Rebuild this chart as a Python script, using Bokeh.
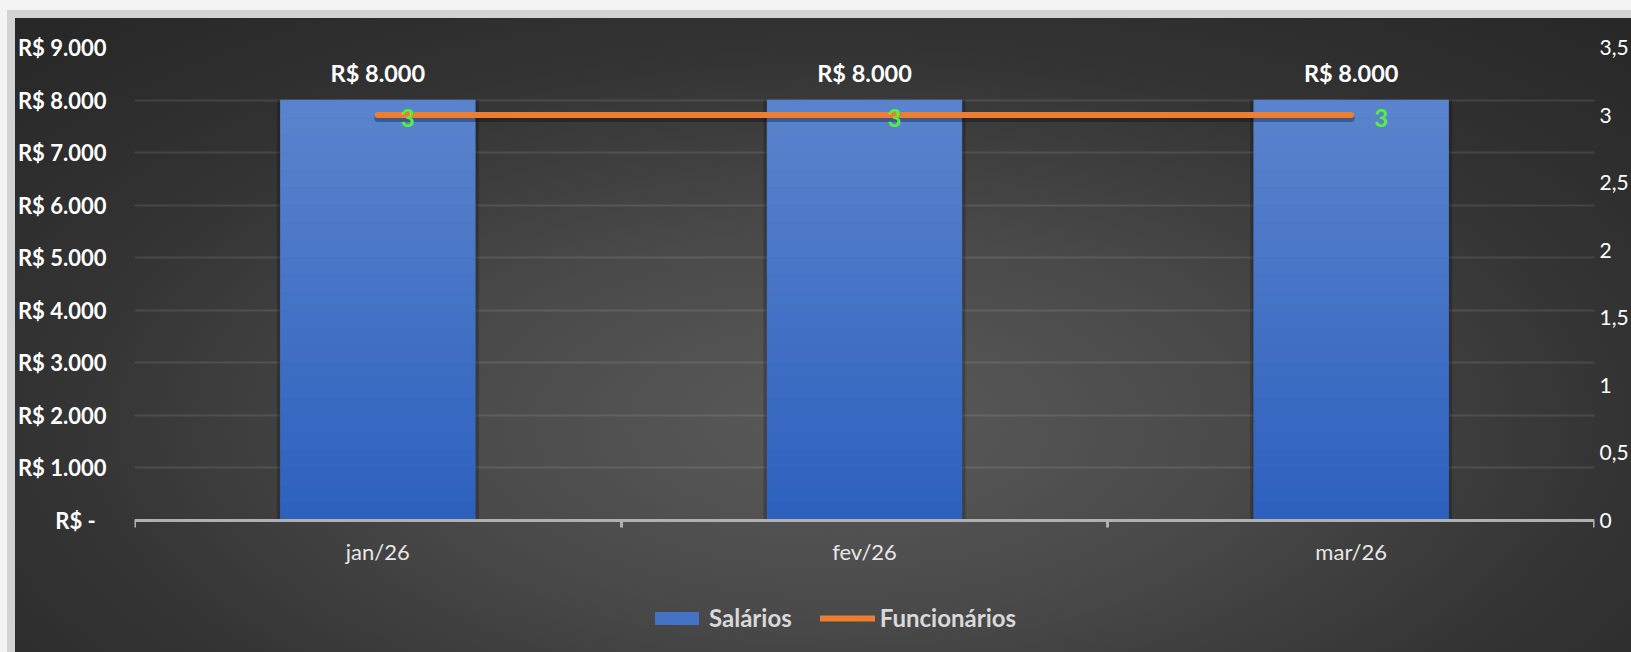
from bokeh.plotting import figure
from bokeh.models import (FixedTicker, CustomJSTickFormatter, LinearAxis, Range1d,
                          Legend, LegendItem, ColumnDataSource)
from bokeh.transform import dodge
from bokeh.core.properties import value
from bokeh.embed import file_html
from bokeh.resources import INLINE

# ---------------- data ----------------
months = ["jan/26", "fev/26", "mar/26"]
salarios = [8000, 8000, 8000]
funcionarios = [3, 3, 3]
salario_labels = ["R$ 8.000", "R$ 8.000", "R$ 8.000"]
func_labels = ["3", "3", "3"]
left_ticks = [0, 1000, 2000, 3000, 4000, 5000, 6000, 7000, 8000, 9000]
right_ticks = [0, 0.5, 1, 1.5, 2, 2.5, 3, 3.5]

xs = [i + 0.5 for i in range(len(months))]
boundaries = list(range(len(months) + 1))

src = ColumnDataSource(dict(x=xs, sal=salarios, func=funcionarios,
                            sal_lab=salario_labels, func_lab=func_labels))

FONT = "Lato"
BLUE_TOP = (0x5b, 0x84, 0xcd)
BLUE_BOT = (0x2d, 0x60, 0xbe)
ORANGE = "#ed7d31"
GREEN = "#55f03a"

# layout (pixels)
W, H = 1631, 652
TOP, LEFT, RIGHT = 47, 134, 37
PLOT_H = 473          # value area height (0 .. max)
BELOW = H - TOP - PLOT_H  # space under the zero line kept inside the frame
ext = BELOW / PLOT_H

y0 = -left_ticks[-1] * ext
r0 = -right_ticks[-1] * ext

p = figure(width=W, height=H, output_backend="svg", toolbar_location=None,
           x_range=Range1d(boundaries[0], boundaries[-1]),
           y_range=Range1d(y0, left_ticks[-1]),
           min_border_left=LEFT, min_border_top=TOP, min_border_right=RIGHT,
           min_border_bottom=0)
p.border_fill_color = None
p.background_fill_color = None
p.outline_line_color = None
p.styles = {
    "background":
        "radial-gradient(ellipse 70% 85% at 51% 64%, #5a5a5a 0%, #4a4a4a 35%, #333333 70%, #282828 100%) 15px 18px / calc(100% - 15px) calc(100% - 18px) no-repeat,"
        " linear-gradient(#d3d3d3, #d3d3d3) 7px 10px / 100% 100% no-repeat, #f4f4f4"
}

p.extra_y_ranges = {"right": Range1d(r0, right_ticks[-1])}

# grid
p.xgrid.visible = False
p.ygrid.ticker = FixedTicker(ticks=left_ticks)
p.ygrid.grid_line_color = "#ffffff"
p.ygrid.grid_line_alpha = 0.1
p.ygrid.grid_line_width = 2

# left axis
ya = p.yaxis[0]
ya.ticker = FixedTicker(ticks=left_ticks)
ya.formatter = CustomJSTickFormatter(code=r"""
if (tick == 0) { return "R$ -\u00a0\u00a0"; }
return "R$ " + tick.toFixed(0).replace(/\B(?=(\d{3})+(?!\d))/g, ".");
""")
ya.axis_line_color = None
ya.major_tick_line_color = None
ya.minor_tick_line_color = None
ya.major_tick_out = 0
ya.major_tick_in = 0
ya.minor_tick_out = 0
ya.minor_tick_in = 0
ya.major_label_text_color = "#ffffff"
ya.major_label_text_font = FONT
ya.major_label_text_font_style = "bold"
ya.major_label_text_font_size = "22px"
ya.major_label_standoff = 28

# right axis
ra = LinearAxis(y_range_name="right", ticker=FixedTicker(ticks=right_ticks),
                formatter=CustomJSTickFormatter(code="return String(tick).replace('.', ',');"))
ra.axis_line_color = None
ra.major_tick_line_color = None
ra.minor_tick_line_color = None
ra.major_tick_out = 0
ra.major_tick_in = 0
ra.minor_tick_out = 0
ra.minor_tick_in = 0
ra.major_label_text_color = "#ffffff"
ra.major_label_text_font = FONT
ra.major_label_text_font_size = "21px"
ra.major_label_standoff = 5
p.add_layout(ra, "right")

# x axis, drawn at the zero line
xa = p.xaxis[0]
xa.fixed_location = 0
xa.ticker = FixedTicker(ticks=xs, minor_ticks=boundaries)
xa.formatter = CustomJSTickFormatter(args=dict(labels=months),
                                     code="return labels[Math.floor(tick)];")
xa.axis_line_color = "#b0b0b0"
xa.axis_line_width = 3
xa.major_tick_line_color = None
xa.major_tick_out = 0
xa.major_tick_in = 0
xa.minor_tick_line_color = "#b0b0b0"
xa.minor_tick_line_width = 3
xa.minor_tick_out = 7
xa.minor_tick_in = 0
xa.major_label_text_color = "#e6e6e6"
xa.major_label_text_font = FONT
xa.major_label_text_font_size = "22px"
xa.major_label_standoff = 10

# bars: soft shadow, main bar, gradient slabs
p.vbar(x="x", top="sal", width=0.415, bottom=0, source=src,
       fill_color="#000000", fill_alpha=0.22, line_color=None)
bars = p.vbar(x="x", top="sal", width=0.4, bottom=0, source=src,
              fill_color="#4472c4", line_color=None)
N = 24
for k in range(N):
    f0, f1 = k / N, (k + 1) / N
    t = (f0 + f1) / 2
    c = tuple(int(round(BLUE_BOT[i] + (BLUE_TOP[i] - BLUE_BOT[i]) * t)) for i in range(3))
    col = "#%02x%02x%02x" % c
    p.vbar(x=xs, width=0.4,
           bottom=[s * f0 for s in salarios], top=[s * f1 for s in salarios],
           fill_color=col, line_color=col, line_width=0.6)

# line with shadow
p.line(x="x", y=dodge("func", -0.025, range=p.extra_y_ranges["right"]), source=src,
       y_range_name="right", line_color="#000000", line_alpha=0.3,
       line_width=7, line_cap="round")
ln = p.line(x="x", y="func", source=src, y_range_name="right",
            line_color=ORANGE, line_width=6, line_cap="round")

# labels
p.text(x="x", y="sal", text="sal_lab", source=src, y_offset=-27,
       text_align="center", text_baseline="middle", text_color="#ffffff",
       text_font=value(FONT), text_font_style="bold", text_font_size="23.5px")
p.text(x="x", y="func", text="func_lab", source=src, y_range_name="right",
       x_offset=30, y_offset=3,
       text_align="center", text_baseline="middle", text_color=GREEN,
       text_font=value(FONT), text_font_style="bold", text_font_size="24px")

legend = Legend(items=[LegendItem(label="Salários", renderers=[bars]),
                       LegendItem(label="Funcionários", renderers=[ln])],
                orientation="horizontal", location=(515, 20),
                background_fill_alpha=0, border_line_color=None,
                glyph_width=55, glyph_height=16, label_standoff=5, spacing=28,
                padding=0, margin=0,
                label_text_color="#d9d9d9", label_text_font=FONT,
                label_text_font_style="bold", label_text_font_size="24px")
p.add_layout(legend, "center")

open("out.html", "w").write(file_html(p, INLINE))
